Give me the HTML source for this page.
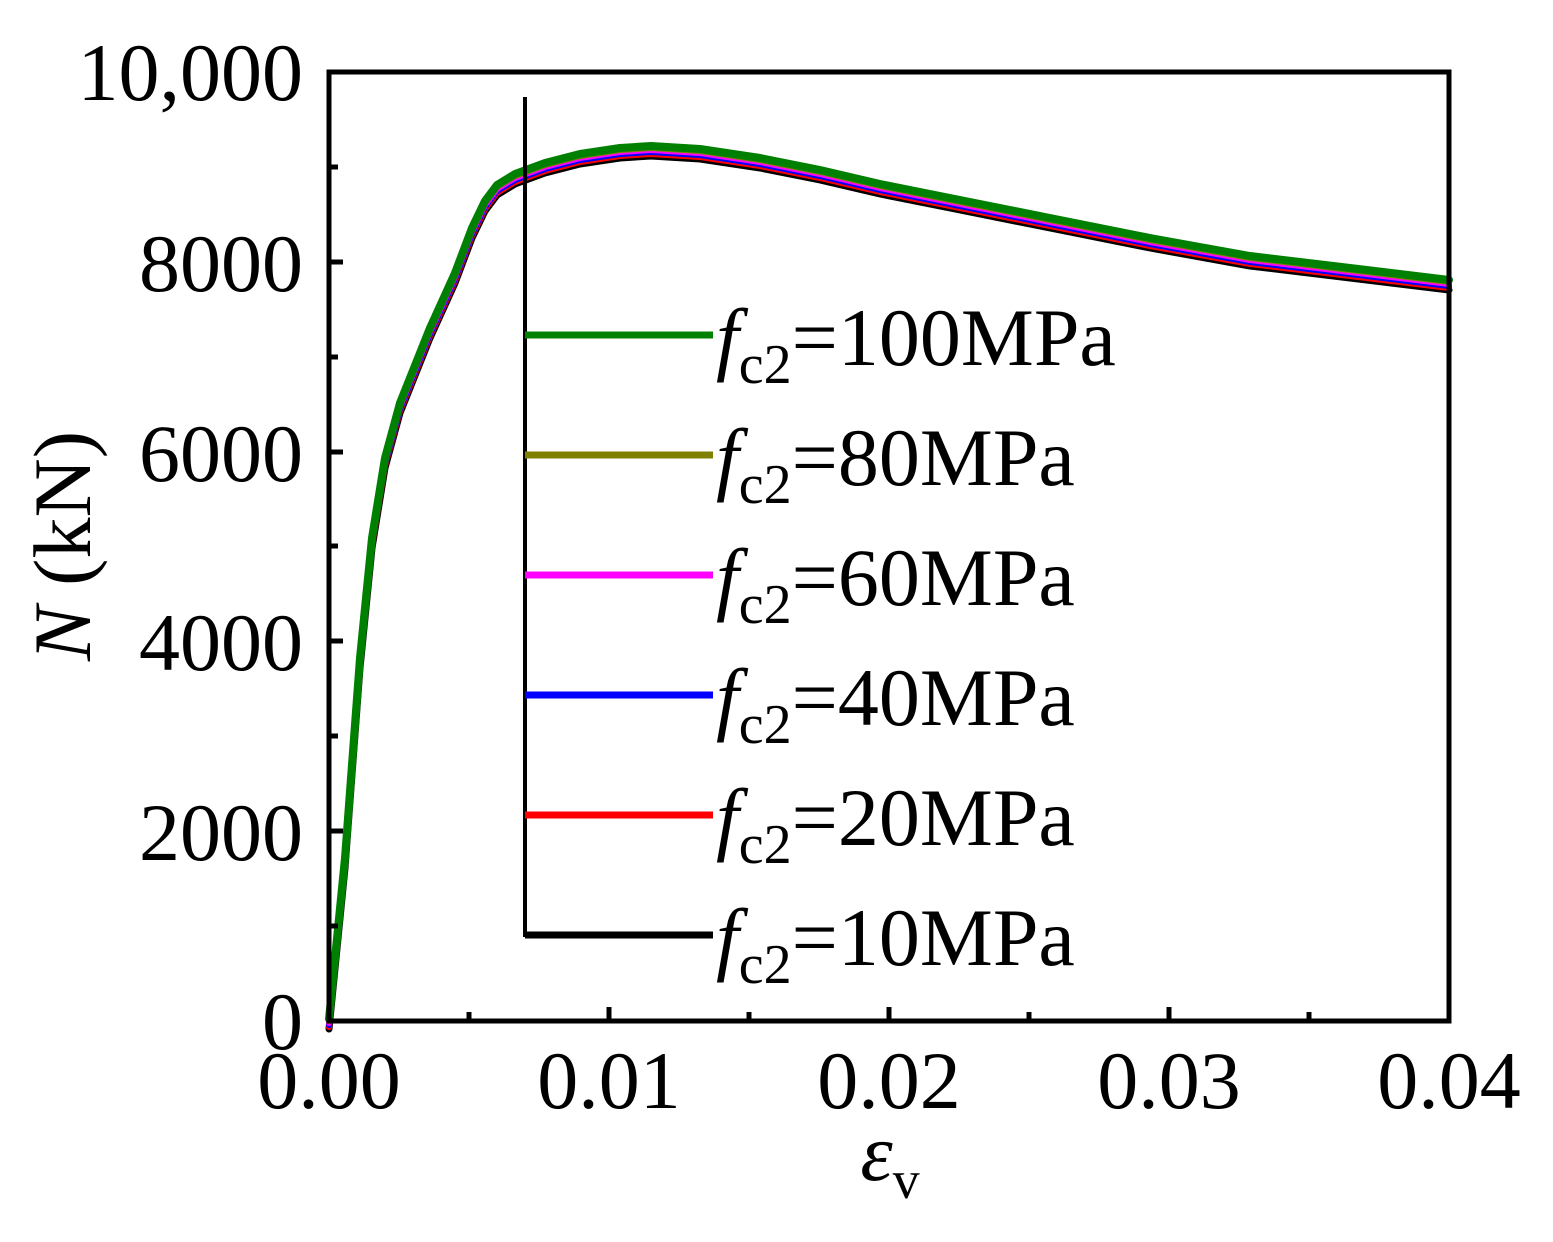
<!DOCTYPE html>
<html><head><meta charset="utf-8"><style>body{margin:0;background:#fff}</style></head><body>
<svg width="1553" height="1237" viewBox="0 0 1553 1237" xmlns="http://www.w3.org/2000/svg" font-family="'Liberation Serif',serif">
<rect width="1553" height="1237" fill="#fff"/>
<defs><path id="c" d="M329,1021 L345,860 L360,660 L372,540 L385,460 L400,405 L430,330 L455,275 L472,230 L485,203 L497,187 L515,176 L545,165 L580,156 L620,150 L651,148 L700,151 L760,160 L820,172 L880,186 L960,202 L1050,220 L1150,240 L1250,258 L1350,270 L1449,282"/></defs>
<g fill="none" stroke-linejoin="round" stroke-linecap="round">
<use href="#c" stroke="#000" stroke-width="7" transform="translate(0,8)"/>
<use href="#c" stroke="#f00" stroke-width="6" transform="translate(0,6)"/>
<use href="#c" stroke="#00f" stroke-width="6" transform="translate(0,4)"/>
<use href="#c" stroke="#f0f" stroke-width="6" transform="translate(0,2)"/>
<use href="#c" stroke="#808000" stroke-width="6" transform="translate(0,0)"/>
<use href="#c" stroke="#008000" stroke-width="8" transform="translate(0,-2)"/>
</g>
<rect x="329" y="72" width="1120" height="949" fill="none" stroke="#000" stroke-width="5"/>
<g stroke="#000" stroke-width="5">
<line x1="329" y1="167" x2="338" y2="167"/><line x1="329" y1="262" x2="343" y2="262"/><line x1="329" y1="357" x2="338" y2="357"/><line x1="329" y1="452" x2="343" y2="452"/><line x1="329" y1="546" x2="338" y2="546"/><line x1="329" y1="641" x2="343" y2="641"/><line x1="329" y1="736" x2="338" y2="736"/><line x1="329" y1="831" x2="343" y2="831"/><line x1="329" y1="926" x2="338" y2="926"/>
<line x1="469" y1="1021" x2="469" y2="1012"/><line x1="609" y1="1021" x2="609" y2="1007"/><line x1="749" y1="1021" x2="749" y2="1012"/><line x1="889" y1="1021" x2="889" y2="1007"/><line x1="1029" y1="1021" x2="1029" y2="1012"/><line x1="1169" y1="1021" x2="1169" y2="1007"/><line x1="1309" y1="1021" x2="1309" y2="1012"/>
<line x1="525" y1="97" x2="525" y2="937" stroke-width="4"/>
</g>
<g stroke-width="7">
<line x1="525" y1="335" x2="713" y2="335" stroke="#008000"/>
<line x1="525" y1="455" x2="713" y2="455" stroke="#808000"/>
<line x1="525" y1="575" x2="713" y2="575" stroke="#f0f"/>
<line x1="525" y1="695" x2="713" y2="695" stroke="#00f"/>
<line x1="525" y1="815" x2="713" y2="815" stroke="#f00"/>
<line x1="525" y1="935" x2="713" y2="935" stroke="#000"/>
</g>
<g font-size="82" text-anchor="end">
<text x="303" y="100">10,000</text><text x="303" y="291">8000</text><text x="303" y="481">6000</text><text x="303" y="670">4000</text><text x="303" y="860">2000</text><text x="303" y="1049">0</text>
</g>
<g font-size="82" text-anchor="middle">
<text x="329" y="1108">0.00</text><text x="609" y="1108">0.01</text><text x="889" y="1108">0.02</text><text x="1169" y="1108">0.03</text><text x="1449" y="1108">0.04</text>
</g>
<text x="890" y="1180" font-size="82" font-style="italic" text-anchor="middle">ε<tspan font-size="54" font-style="normal" dy="18">v</tspan></text>
<text transform="translate(90,546) rotate(-90)" font-size="82" text-anchor="middle"><tspan font-style="italic">N</tspan> (kN)</text>
<g font-size="82">
<text x="716" y="365"><tspan font-style="italic">f</tspan><tspan font-size="56" dy="18">c2</tspan><tspan dy="-18">=100MPa</tspan></text>
<text x="716" y="485"><tspan font-style="italic">f</tspan><tspan font-size="56" dy="18">c2</tspan><tspan dy="-18">=80MPa</tspan></text>
<text x="716" y="605"><tspan font-style="italic">f</tspan><tspan font-size="56" dy="18">c2</tspan><tspan dy="-18">=60MPa</tspan></text>
<text x="716" y="725"><tspan font-style="italic">f</tspan><tspan font-size="56" dy="18">c2</tspan><tspan dy="-18">=40MPa</tspan></text>
<text x="716" y="845"><tspan font-style="italic">f</tspan><tspan font-size="56" dy="18">c2</tspan><tspan dy="-18">=20MPa</tspan></text>
<text x="716" y="965"><tspan font-style="italic">f</tspan><tspan font-size="56" dy="18">c2</tspan><tspan dy="-18">=10MPa</tspan></text>
</g>
</svg>
</body></html>
